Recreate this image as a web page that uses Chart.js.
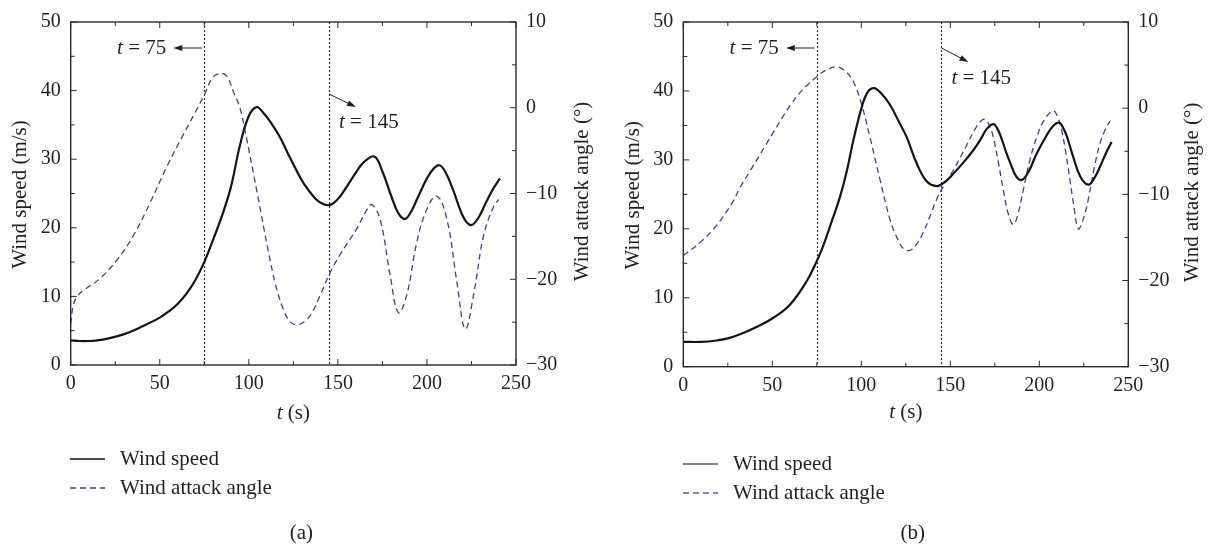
<!DOCTYPE html>
<html><head><meta charset="utf-8">
<script src="https://cdn.jsdelivr.net/npm/chart.js@4.4.1/dist/chart.umd.min.js"></script>
<style>
html,body{margin:0;padding:0;background:#fff;width:1208px;height:547px;overflow:hidden;}
.panel{position:absolute;top:0;width:604px;height:547px;}
</style></head><body>
<div class="panel" style="left:0"><canvas id="ca" width="604" height="547"></canvas></div>
<div class="panel" style="left:604px"><canvas id="cb" width="604" height="547"></canvas></div>
<script>
// ---------- data ----------
const seriesLabels = ['Wind speed', 'Wind attack angle'];
const panelCaptions = ['(a)', '(b)'];
const xRange = [0, 250];
const speedRange = [0, 50];
const angleRange = [-30, 10];
const markerTimes = [75, 145];

// panel (a)
const tSpeedA = [0, 5, 10, 15, 20, 30, 40, 50, 55, 60, 65, 70, 75, 80, 85, 90, 95, 100, 104.4, 108, 111.9, 117.5, 122, 126.9, 131, 136.2, 140, 145, 150, 155, 160, 164.3, 170.5, 175, 180, 184, 187.7, 191, 195, 200, 204, 207.3, 211, 215, 219, 222, 225.1, 229, 233, 237, 241];
const speedA  = [3.6, 3.5, 3.5, 3.6, 3.8, 4.5, 5.6, 6.9, 7.8, 8.9, 10.4, 12.4, 15.0, 18.3, 21.8, 26.0, 32.0, 36.3, 37.6, 36.8, 35.5, 33.2, 30.8, 28.3, 26.4, 24.6, 23.7, 23.3, 24.2, 26.0, 28.0, 29.5, 30.4, 28.2, 24.6, 22.1, 21.3, 22.3, 24.5, 27.2, 28.7, 29.1, 27.8, 25.3, 22.4, 20.9, 20.4, 21.5, 23.6, 25.6, 27.2];
const tAngleA = [0, 1.5, 4, 8, 16.5, 25.8, 35.2, 44.5, 53.9, 63.3, 70, 75, 80, 84.8, 88, 91.3, 95, 97.9, 104.4, 111, 115, 119, 123, 127, 132, 136, 140, 145, 151, 160.6, 166, 169, 173.7, 179.3, 184, 188.7, 194.3, 200, 205.6, 211.2, 216.8, 221.5, 226.2, 231.8, 237.5, 240.3];
const angleA  = [-25.2, -23.0, -21.9, -21.2, -19.9, -17.8, -14.9, -11.1, -6.9, -3.1, -0.5, 1.5, 3.6, 4.0, 3.6, 1.9, 0.0, -2.7, -9.6, -16.8, -20.6, -23.3, -24.9, -25.3, -24.8, -23.7, -21.9, -19.5, -17.2, -14.1, -12.0, -11.3, -13.0, -19.5, -23.9, -21.8, -15.7, -11.8, -10.3, -13.0, -20.3, -25.8, -21.8, -14.9, -11.5, -10.7];

// panel (b)
const tSpeedB = [0, 10, 18.7, 25, 31.9, 40, 50.6, 59.9, 69.3, 75.3, 78.7, 83, 88, 91.8, 95.5, 100.2, 103.5, 107.1, 111, 116.1, 121, 125.5, 131.1, 136.7, 142.4, 147, 151.7, 157.3, 162.9, 166.6, 170.5, 174.2, 176.5, 178.9, 181.5, 183.6, 187, 190.2, 194, 198.5, 204, 208, 211.2, 213.5, 215.5, 219.1, 223, 227.5, 231, 234.1, 237.5, 240.6];
const speedB  = [3.6, 3.6, 3.8, 4.1, 4.7, 5.6, 7.1, 9.0, 12.4, 15.5, 17.6, 20.8, 24.6, 28.3, 32.8, 37.6, 39.8, 40.4, 39.7, 38.0, 35.6, 33.3, 29.5, 26.9, 26.2, 26.8, 28.0, 29.6, 31.4, 32.8, 34.5, 35.2, 34.5, 33.0, 31.0, 29.6, 27.6, 27.1, 28.3, 30.9, 33.5, 35.0, 35.4, 34.6, 33.4, 30.4, 27.6, 26.4, 27.4, 29.0, 31.0, 32.6];
const tAngleB = [0, 9.4, 18.7, 28, 31.9, 37.5, 46.8, 50.6, 56.2, 60, 65.5, 69.3, 75.3, 80, 86.2, 91, 95.5, 100.2, 104.9, 110.5, 116.1, 120, 123.6, 127.3, 131, 134.8, 138.5, 142.3, 146, 151.7, 159.2, 164, 168.5, 171.5, 174.2, 177, 179.8, 182.5, 185.4, 188, 191, 194.5, 198.5, 203, 207.9, 210.3, 212.6, 215, 217.2, 219.5, 221.9, 224.5, 227.5, 231, 234.1, 237, 239.7];
const angleB  = [-17.1, -15.6, -13.6, -10.8, -9.2, -7.3, -4.1, -2.8, -0.9, 0.3, 1.8, 2.6, 3.7, 4.4, 4.8, 4.3, 3.1, 0.4, -3.4, -8.3, -12.9, -15.0, -16.3, -16.5, -15.8, -14.4, -12.6, -10.6, -9.1, -7.2, -4.3, -2.4, -1.3, -1.8, -3.4, -6.3, -9.5, -12.2, -13.5, -12.3, -9.5, -6.2, -3.4, -1.3, -0.3, -1.0, -2.6, -5.3, -8.3, -11.5, -14.0, -13.0, -10.6, -6.8, -4.1, -2.5, -1.5];

// ---------- style ----------
const FONT = '"Liberation Serif", "DejaVu Serif", serif';
const INK = '#231f20';
const SPEED_COLOR = '#141414';
const ANGLE_COLOR = '#3c3ca8';
const TXT = 21;

function toXY(ts, vs) { return ts.map((t, i) => ({ x: t, y: vs[i] })); }
function minus(v) { return v < 0 ? '\u2212' + Math.abs(v) : String(v); }

function drawTEq(ctx, x, y, rest, align) {
  ctx.font = 'italic ' + TXT + 'px ' + FONT;
  const wt = ctx.measureText('t').width;
  ctx.font = TXT + 'px ' + FONT;
  const wr = ctx.measureText(rest).width;
  let x0 = x;
  if (align === 'right') x0 = x - wt - wr;
  if (align === 'center') x0 = x - (wt + wr) / 2;
  ctx.textAlign = 'left'; ctx.textBaseline = 'middle'; ctx.fillStyle = INK;
  ctx.font = 'italic ' + TXT + 'px ' + FONT;
  ctx.fillText('t', x0, y);
  ctx.font = TXT + 'px ' + FONT;
  ctx.fillText(rest, x0 + wt, y);
}
function arrow(ctx, x1, y1, x2, y2) {
  ctx.save();
  ctx.strokeStyle = INK; ctx.fillStyle = INK; ctx.lineWidth = 1; ctx.setLineDash([]);
  const a = Math.atan2(y2 - y1, x2 - x1);
  const hl = 9, hw = 3;
  ctx.beginPath(); ctx.moveTo(x1, y1); ctx.lineTo(x2 - hl * Math.cos(a) * 0.6, y2 - hl * Math.sin(a) * 0.6); ctx.stroke();
  ctx.beginPath();
  ctx.moveTo(x2, y2);
  ctx.lineTo(x2 - hl * Math.cos(a) + hw * Math.sin(a), y2 - hl * Math.sin(a) - hw * Math.cos(a));
  ctx.lineTo(x2 - hl * Math.cos(a) - hw * Math.sin(a), y2 - hl * Math.sin(a) + hw * Math.cos(a));
  ctx.closePath(); ctx.fill();
  ctx.restore();
}

const decoPlugin = {
  id: 'deco',
  beforeDatasetsDraw(chart) {
    const { ctx, chartArea: ca, scales } = chart;
    ctx.save();
    ctx.strokeStyle = '#333'; ctx.lineWidth = 1.2; ctx.setLineDash([2, 2]);
    markerTimes.forEach(t => {
      const px = Math.round(scales.x.getPixelForValue(t)) + 0.5;
      ctx.beginPath(); ctx.moveTo(px, ca.top); ctx.lineTo(px, ca.bottom); ctx.stroke();
    });
    ctx.restore();
  },
  afterDraw(chart, args, o) {
    const { ctx, chartArea: ca, scales } = chart;
    ctx.save();
    ctx.strokeStyle = '#2a2a2a'; ctx.lineWidth = 1.4; ctx.setLineDash([]);
    ctx.strokeRect(ca.left, ca.top, ca.right - ca.left, ca.bottom - ca.top);
    ctx.lineWidth = 1;
    ctx.beginPath();
    scales.x.ticks.forEach(tk => {
      const px = scales.x.getPixelForValue(tk.value);
      const len = tk.value % 50 === 0 ? 6 : 4;
      ctx.moveTo(px, ca.bottom); ctx.lineTo(px, ca.bottom - len);
      ctx.moveTo(px, ca.top); ctx.lineTo(px, ca.top + len);
    });
    scales.y.ticks.forEach(tk => {
      const py = scales.y.getPixelForValue(tk.value);
      const len = tk.value % 10 === 0 ? 6 : 4;
      ctx.moveTo(ca.left, py); ctx.lineTo(ca.left + len, py);
    });
    scales.y2.ticks.forEach(tk => {
      const py = scales.y2.getPixelForValue(tk.value);
      const len = tk.value % 10 === 0 ? 6 : 4;
      ctx.moveTo(ca.right, py); ctx.lineTo(ca.right - len, py);
    });
    ctx.stroke();

    ctx.fillStyle = INK; ctx.font = TXT + 'px ' + FONT;
    ctx.textAlign = 'center'; ctx.textBaseline = 'middle';
    const midY = (ca.top + ca.bottom) / 2;
    ctx.save(); ctx.translate(ca.left + o.yTitleDx, midY + 1); ctx.rotate(-Math.PI / 2);
    ctx.fillText('Wind speed (m/s)', 0, 0); ctx.restore();
    ctx.save(); ctx.translate(ca.right + o.y2TitleDx, midY - 2); ctx.rotate(-Math.PI / 2);
    ctx.fillText('Wind attack angle (\u00B0)', 0, 0); ctx.restore();
    drawTEq(ctx, (ca.left + ca.right) / 2, ca.bottom + o.xTitleDy, ' (s)', 'center');

    const x75 = scales.x.getPixelForValue(markerTimes[0]);
    const x145 = scales.x.getPixelForValue(markerTimes[1]);
    arrow(ctx, x75 - 2, o.ann75Y, x75 - 31, o.ann75Y);
    drawTEq(ctx, x75 - 38, o.ann75Y, ' = 75', 'right');
    arrow(ctx, x145, o.a145Y1, x145 + 27, o.a145Y2);
    drawTEq(ctx, x145 + 10, o.t145Y, ' = 145', 'left');

    chart.data.datasets.forEach((ds, i) => {
      const ly = o.legendY[i];
      ctx.strokeStyle = o.legendColors[i]; ctx.lineWidth = 1.3;
      ctx.setLineDash(ds.borderDash || []);
      ctx.beginPath(); ctx.moveTo(ca.left + o.legendDx, ly); ctx.lineTo(ca.left + o.legendDx + 35, ly); ctx.stroke();
      ctx.setLineDash([]);
      ctx.fillStyle = INK; ctx.font = TXT + 'px ' + FONT; ctx.textAlign = 'left'; ctx.textBaseline = 'middle';
      ctx.fillText(ds.label, ca.left + o.legendDx + 50, ly);
    });
    ctx.textAlign = 'center';
    ctx.fillText(o.caption, (ca.left + ca.right) / 2 + o.capDx, o.capY);
    ctx.restore();
  }
};

function makePanel(id, speedData, angleData, geo, deco) {
  const tickFont = { family: FONT, size: 20 };
  return new Chart(document.getElementById(id), {
    type: 'line',
    data: {
      datasets: [
        { label: seriesLabels[0], data: speedData, yAxisID: 'y', borderColor: SPEED_COLOR, borderWidth: 2.2, pointRadius: 0, tension: 0.4, fill: false },
        { label: seriesLabels[1], data: angleData, yAxisID: 'y2', borderColor: ANGLE_COLOR, borderWidth: 1.3, borderDash: [6, 4], pointRadius: 0, tension: 0.4, fill: false }
      ]
    },
    options: {
      responsive: false, animation: false, devicePixelRatio: 1,
      layout: { padding: { top: geo.top, left: 0, right: 0, bottom: 0 } },
      plugins: { legend: { display: false }, tooltip: { enabled: false }, deco: deco },
      scales: {
        x: {
          type: 'linear', min: xRange[0], max: xRange[1],
          grid: { display: false, drawTicks: false }, border: { display: false },
          ticks: { stepSize: 25, autoSkip: false, maxRotation: 0, padding: geo.xPad, color: INK, font: tickFont,
                   callback: v => (v % 50 === 0 ? String(v) : '') },
          afterFit: s => { s.height = geo.xH; }
        },
        y: {
          position: 'left', min: speedRange[0], max: speedRange[1],
          grid: { display: false, drawTicks: false }, border: { display: false },
          ticks: { stepSize: 5, autoSkip: false, padding: 10, color: INK, font: tickFont,
                   callback: v => (v % 10 === 0 ? String(v) : '') },
          afterFit: s => { s.width = geo.yW; }
        },
        y2: {
          position: 'right', min: angleRange[0], max: angleRange[1],
          grid: { display: false, drawTicks: false }, border: { display: false },
          ticks: { stepSize: 5, autoSkip: false, padding: 10, color: INK, font: tickFont,
                   callback: v => (v % 10 === 0 ? minus(v) : '') },
          afterFit: s => { s.width = geo.y2W; }
        }
      }
    },
    plugins: [decoPlugin]
  });
}

makePanel('ca', toXY(tSpeedA, speedA), toXY(tAngleA, angleA),
  { top: 16, xH: 182, yW: 70.7, y2W: 88, xPad: 7 },
  { yTitleDx: -50.5, y2TitleDx: 66, xTitleDy: 48, ann75Y: 48, a145Y1: 94, a145Y2: 107, t145Y: 122,
    legendY: [459, 488], legendDx: -0.7, legendColors: ['#111', ANGLE_COLOR], caption: panelCaptions[0], capDx: 8, capY: 533 });
makePanel('cb', toXY(tSpeedB, speedB), toXY(tAngleB, angleB),
  { top: 16, xH: 180.3, yW: 79.3, y2W: 79.7, xPad: 7 },
  { yTitleDx: -50.3, y2TitleDx: 64, xTitleDy: 46, ann75Y: 48, a145Y1: 48, a145Y2: 62, t145Y: 78,
    legendY: [464, 493], legendDx: -0.3, legendColors: ['#555', '#5a5ab8'], caption: panelCaptions[1], capDx: 7, capY: 533 });
</script></body></html>
